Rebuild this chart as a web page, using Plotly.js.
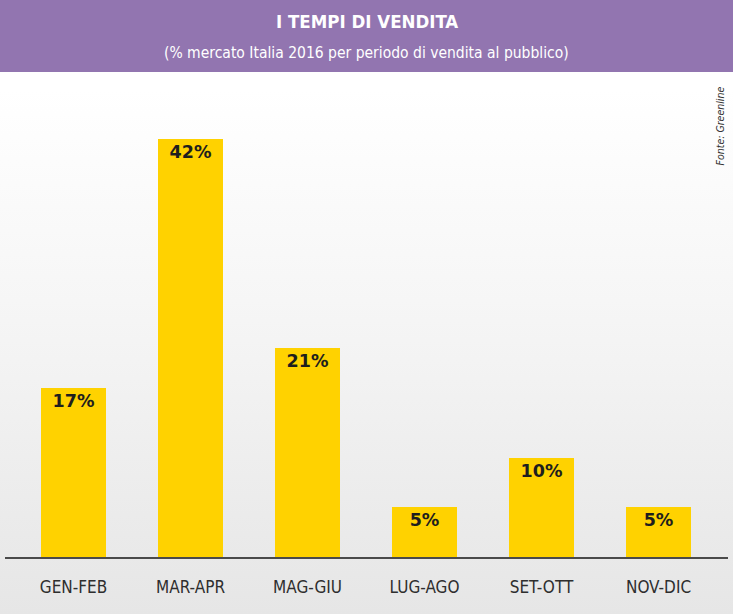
<!DOCTYPE html>
<html>
<head>
<meta charset="utf-8">
<script src="https://cdn.plot.ly/plotly-3.0.1.min.js"></script>
<style>
  html, body { margin: 0; padding: 0; }
  body { width: 733px; height: 614px; overflow: hidden;
         background: linear-gradient(to bottom, #ffffff 0px, #ffffff 90px, #f6f6f6 300px, #e6e6e6 614px); }
  #chart { width: 733px; height: 614px; }
</style>
</head>
<body>
<div id="chart"></div>
<script>
const categories = ["GEN-FEB", "MAR-APR", "MAG-GIU", "LUG-AGO", "SET-OTT", "NOV-DIC"];
const values = [17, 42, 21, 5, 10, 5];
const valueLabels = ["17%", "42%", "21%", "5%", "10%", "5%"];
const titleText = "I TEMPI DI VENDITA";
const subtitleText = "(% mercato Italia 2016 per periodo di vendita al pubblico)";
const sourceText = "Fonte: Greenline";

const W = 733, H = 614;
const mL = 5, mR = 5, mT = 75, mB = 57;
const plotW = W - mL - mR, plotH = H - mT - mB;
const pxX = (px) => (px - mL) / plotW;
const pxY = (py) => (H - mB - py) / plotH;
const COND = "DejaVu Sans Condensed, DejaVu Sans";

const trace = {
  type: "bar",
  x: categories.map((c, i) => i),
  y: values,
  text: valueLabels,
  textposition: "inside",
  insidetextanchor: "end",
  textangle: 0,
  insidetextfont: { family: "DejaVu Sans", size: 17.5, color: "#1e1e1e", weight: 700 },
  marker: { color: "#FFD200", line: { width: 0 } },
  width: 0.556,
  hoverinfo: "none",
  cliponaxis: false
};

const layout = {
  width: W, height: H,
  margin: { l: mL, r: mR, t: mT, b: mB, pad: 0 },
  paper_bgcolor: "rgba(0,0,0,0)",
  plot_bgcolor: "rgba(0,0,0,0)",
  showlegend: false,
  bargap: 0,
  xaxis: {
    range: [-0.5855, 5.594],
    tickmode: "array",
    tickvals: categories.map((c, i) => i),
    ticktext: categories,
    tickfont: { family: COND, size: 17, color: "#2e2e2e", stretch: "condensed" },
    ticks: "outside", ticklen: 14, tickcolor: "rgba(0,0,0,0)",
    showline: true, linecolor: "#4a4a4a", linewidth: 1.5,
    showgrid: false, zeroline: false, fixedrange: true
  },
  yaxis: {
    range: [0, 48.44],
    visible: false, showgrid: false, zeroline: false, fixedrange: true
  },
  shapes: [{
    type: "rect", xref: "paper", yref: "paper",
    x0: pxX(0), x1: pxX(W), y0: pxY(72), y1: pxY(0),
    fillcolor: "#9275B0", line: { width: 0 }, layer: "below"
  }],
  annotations: [
    { text: "<b>" + titleText + "</b>", xref: "paper", yref: "paper",
      x: pxX(366.5), y: pxY(22), xanchor: "center", yanchor: "middle", showarrow: false,
      font: { family: COND, size: 18.5, color: "#ffffff", stretch: "condensed" } },
    { text: subtitleText, xref: "paper", yref: "paper",
      x: pxX(366.5), y: pxY(53), xanchor: "center", yanchor: "middle", showarrow: false,
      font: { family: COND, size: 15.5, color: "#ffffff", stretch: "condensed" } },
    { text: "<i>" + sourceText + "</i>", xref: "paper", yref: "paper",
      x: pxX(719), y: pxY(85), xanchor: "center", yanchor: "top", textangle: -90, showarrow: false,
      font: { family: COND, size: 10.5, color: "#333333", stretch: "condensed" } }
  ]
};

Plotly.newPlot("chart", [trace], layout, { staticPlot: true, displayModeBar: false });
</script>
</body>
</html>
